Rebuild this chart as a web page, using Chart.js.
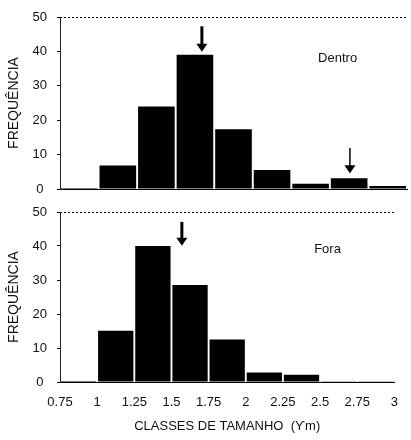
<!DOCTYPE html>
<html>
<head>
<meta charset="utf-8">
<script src="https://cdn.jsdelivr.net/npm/chart.js@4.4.1/dist/chart.umd.min.js"></script>
<style>
  html, body { margin: 0; padding: 0; background: #fff; }
  #wrap { position: relative; width: 411px; height: 440px; }
  .box { position: absolute; left: 0; width: 411px; }
</style>
</head>
<body>
<div id="wrap">
  <div class="box" style="top:0;height:200px"><canvas id="js_dentro_chart" width="411" height="200"></canvas></div>
  <div class="box" style="top:200px;height:240px"><canvas id="js_fora_chart" width="411" height="240"></canvas></div>
</div>
<script>
// size classes (um) - bin edges and the labels under them
var class_edges = [0.75, 1, 1.25, 1.5, 1.75, 2, 2.25, 2.5, 2.75, 3]
var tick_labels = ['0.75', '1', '1.25', '1.5', '1.75', '2', '2.25', '2.5', '2.75', '3']
var freq_ticks = [0, 10, 20, 30, 40, 50]

// frequencies per class
var dentro_values = [0.3, 6.8, 24, 39, 17.4, 5.5, 1.5, 3.1, 0.9]
var fora_values = [0.3, 15.1, 40, 28.5, 12.5, 2.8, 2.1, 0.2, 0.2]

// arrows: class value where they point, and the frequency span they cover
var dentro_arrows = [{x: 1.67, from: 47.3, to: 39.9, w: 3}, {x: 2.63, from: 11.9, to: 4.6, w: 1.5}]
var fora_arrows = [{x: 1.57, from: 47.1, to: 40.1, w: 3}]

var FONT = "'Liberation Sans', Arial, sans-serif"
var NARROW = "'Liberation Sans Narrow', 'Arial Narrow', 'Liberation Sans', sans-serif"

function toPoints(values) {
    return values.map(function(v, i) {
        return {x: (class_edges[i] + class_edges[i + 1]) / 2, y: v}
    })
}

var panelDecor = {
    id: 'panelDecor',
    afterDatasetsDraw: function(chart, args, opts) {
        var ctx = chart.ctx
        var xs = chart.scales.x
        var ys = chart.scales.y
        var area = chart.chartArea
        ctx.save()
        // dotted line on top value
        var yTop = Math.round(ys.getPixelForValue(ys.max)) + 0.5
        ctx.strokeStyle = '#000'
        ctx.lineWidth = 1
        ctx.setLineDash([2, 2])
        ctx.beginPath()
        ctx.moveTo(area.left, yTop)
        ctx.lineTo(area.right, yTop)
        ctx.stroke()
        ctx.setLineDash([])

        opts.arrows.forEach(function(a) {
            var px = xs.getPixelForValue(a.x)
            var y1 = ys.getPixelForValue(a.from)
            var y2 = ys.getPixelForValue(a.to)
            ctx.lineWidth = a.w
            ctx.beginPath()
            ctx.moveTo(px, y1)
            ctx.lineTo(px, y2 - 6)
            ctx.stroke()
            ctx.fillStyle = '#000'
            ctx.beginPath()
            ctx.moveTo(px - 5.5, y2 - 8)
            ctx.lineTo(px + 5.5, y2 - 8)
            ctx.lineTo(px, y2)
            ctx.closePath()
            ctx.fill()
        })

        ctx.fillStyle = '#111'
        ctx.font = '13px ' + FONT
        ctx.textAlign = 'center'
        ctx.textBaseline = 'middle'
        ctx.fillText(opts.label.text, xs.getPixelForValue(opts.label.x), ys.getPixelForValue(opts.label.y))
        ctx.restore()
    }
}

function makeChart(canvas_id, values, arrows, label, showX, topPad, xHeight) {
    return new Chart(document.getElementById(canvas_id), {
        type: 'bar',
        data: {
            datasets: [{
                data: toPoints(values),
                backgroundColor: '#000',
                borderWidth: 0,
                barPercentage: 1,
                categoryPercentage: 0.95
            }]
        },
        plugins: [panelDecor],
        options: {
            responsive: false,
            animation: false,
            devicePixelRatio: 1,
            layout: {padding: {top: topPad, right: 4, left: 0, bottom: 0}},
            plugins: {
                legend: {display: false},
                tooltip: {enabled: false},
                panelDecor: {arrows: arrows, label: label}
            },
            scales: {
                x: {
                    type: 'linear',
                    min: class_edges[0],
                    max: class_edges[class_edges.length - 1],
                    offset: false,
                    grid: {display: false, drawTicks: false, offset: false},
                    border: {display: true, color: '#000', width: 1},
                    afterBuildTicks: function(scale) {
                        scale.ticks = class_edges.map(function(v) { return {value: v} })
                    },
                    afterFit: function(scale) { scale.height = xHeight },
                    ticks: {
                        display: showX,
                        autoSkip: false,
                        maxRotation: 0,
                        padding: 13,
                        color: '#111',
                        font: {family: NARROW, size: 13},
                        callback: function(v, i) { return tick_labels[i] }
                    },
                    title: {
                        display: showX,
                        text: 'CLASSES DE TAMANHO  (ϒm)',
                        color: '#111',
                        font: {family: FONT, size: 13},
                        padding: {top: 0, bottom: 6}
                    }
                },
                y: {
                    min: 0,
                    max: 50,
                    afterBuildTicks: function(scale) {
                        scale.ticks = freq_ticks.map(function(v) { return {value: v} })
                    },
                    afterFit: function(scale) {
                        scale.width = 60
                        // label padding would otherwise push the plot in
                        scale.paddingTop = 0
                        scale.paddingBottom = 0
                    },
                    grid: {display: true, drawOnChartArea: false, drawTicks: true, tickLength: 3, color: '#000'},
                    border: {display: true, color: '#222', width: 1},
                    ticks: {
                        crossAlign: 'center',
                        padding: 10,
                        color: '#111',
                        font: {family: NARROW, size: 13}
                    },
                    title: {
                        display: true,
                        text: 'FREQUÊNCIA',
                        color: '#111',
                        font: {family: FONT, size: 14},
                        padding: {top: 6, bottom: 0}
                    }
                }
            }
        }
    })
}

var dentroChart = makeChart('js_dentro_chart', dentro_values, dentro_arrows, {text: 'Dentro', x: 2.55, y: 38}, false, 17, 11)
var foraChart = makeChart('js_fora_chart', fora_values, fora_arrows, {text: 'Fora', x: 2.55, y: 39}, true, 12, 58)
</script>
</body>
</html>
